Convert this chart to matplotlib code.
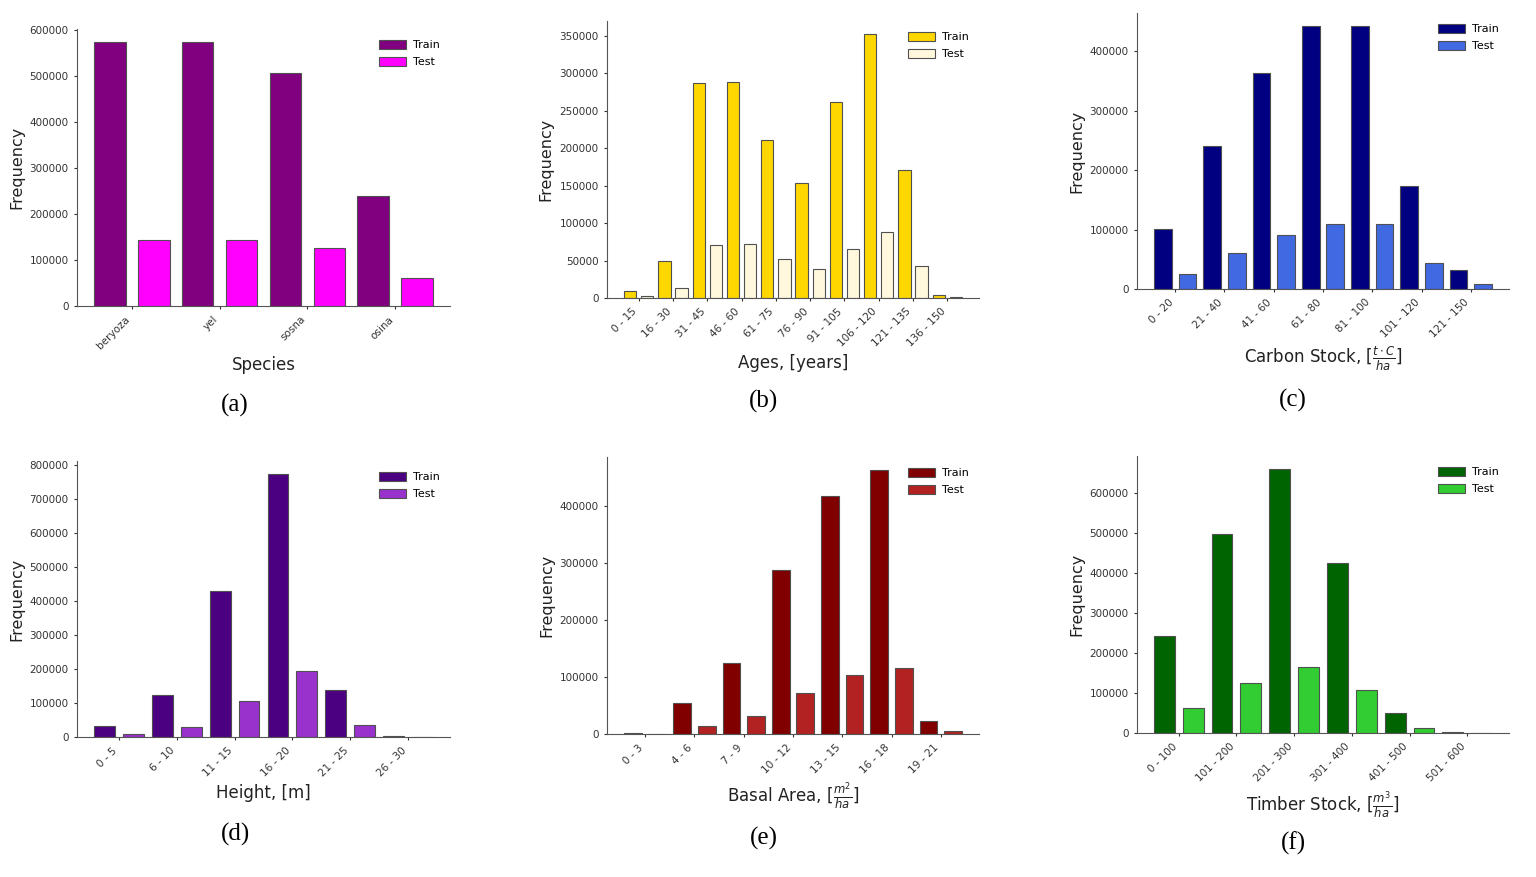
import matplotlib
matplotlib.use('Agg')
import matplotlib.pyplot as plt
import numpy as np

FIG_W_PX = 1536
FIG_H_PX = 877
DPI = 100

BAR_WIDTH = 0.36
BAR_OFFSET = 0.25

# (a) species
species_labels = ['beryoza', 'yel', 'sosna', 'osina']
species_train = [574500, 574500, 507600, 240000]
species_test = [144000, 144000, 127300, 60400]

# (b) ages
age_labels = ['0 - 15', '16 - 30', '31 - 45', '46 - 60', '61 - 75', '76 - 90',
              '91 - 105', '106 - 120', '121 - 135', '136 - 150']
age_train = [10000, 50000, 287600, 288500, 211300, 153400, 261700, 352200, 170300, 4000]
age_test = [2200, 12900, 71300, 72200, 52600, 38300, 66000, 87800, 42800, 1300]

# (c) carbon stock
carbon_labels = ['0 - 20', '21 - 40', '41 - 60', '61 - 80', '81 - 100', '101 - 120', '121 - 150']
carbon_train = [100700, 241100, 364200, 442000, 442500, 172900, 32400]
carbon_test = [25200, 60400, 90600, 109700, 109700, 43100, 7800]

# (d) height
height_labels = ['0 - 5', '6 - 10', '11 - 15', '16 - 20', '21 - 25', '26 - 30']
height_train = [33300, 124200, 428400, 772600, 137900, 2000]
height_test = [8800, 30300, 106600, 193600, 34200, 800]

# (e) basal area
basal_labels = ['0 - 3', '4 - 6', '7 - 9', '10 - 12', '13 - 15', '16 - 18', '19 - 21']
basal_train = [1200, 54900, 123800, 286700, 416400, 461900, 22200]
basal_test = [300, 13400, 31500, 71200, 103900, 115000, 5800]

# (f) timber stock
timber_labels = ['0 - 100', '101 - 200', '201 - 300', '301 - 400', '401 - 500', '501 - 600']
timber_train = [241700, 497500, 659200, 425800, 49200, 2500]
timber_test = [61700, 124200, 165000, 106700, 12500, 1000]


def _px_rect(x0, x1, y_top, y_bot):
    return [x0 / FIG_W_PX, 1 - y_bot / FIG_H_PX,
            (x1 - x0) / FIG_W_PX, (y_bot - y_top) / FIG_H_PX]


def _plot_panel(fig, rect, labels, train, test, colors, xlabel, tag, tag_xy):
    ax = fig.add_axes(_px_rect(*rect))
    x = np.arange(len(labels))

    ax.bar(x - BAR_OFFSET, train, BAR_WIDTH, color=colors[0],
           edgecolor='#505050', linewidth=0.8, label='Train')
    ax.bar(x + BAR_OFFSET, test, BAR_WIDTH, color=colors[1],
           edgecolor='#505050', linewidth=0.8, label='Test')

    ax.set_xticks(x)
    ax.set_xticklabels(labels, rotation=45, ha='right', fontsize=7.5)
    ax.tick_params(axis='y', labelsize=7.5)
    ax.tick_params(colors='#333333', length=2.5)
    for side in ('top', 'right'):
        ax.spines[side].set_visible(False)
    for side in ('left', 'bottom'):
        ax.spines[side].set_color('#555555')

    ax.set_xlabel(xlabel, fontsize=12, color='#222222')
    ax.set_ylabel('Frequency', fontsize=11.5, color='#222222')
    # legend sits a bit lower and wider-spaced than the default
    ax.legend(loc='upper right', frameon=False, fontsize=8,
              handlelength=2.4, handleheight=0.9, labelspacing=0.6,
              handletextpad=0.6, borderaxespad=0.55)

    fig.text(tag_xy[0] / FIG_W_PX, 1 - tag_xy[1] / FIG_H_PX, tag,
             family='Liberation Serif', fontsize=18, ha='center', va='center')
    return ax


def main():
    fig = plt.figure(figsize=(FIG_W_PX / DPI, FIG_H_PX / DPI), dpi=DPI)

    _plot_panel(fig, (77, 450, 29, 306), species_labels, species_train, species_test,
                ('#800080', '#FF00FF'), 'Species', '(a)', (235, 405))
    _plot_panel(fig, (607, 979, 21, 298), age_labels, age_train, age_test,
                ('#FFD700', '#FFF8DC'), 'Ages, [years]', '(b)', (764, 401))
    _plot_panel(fig, (1137, 1509, 13, 289), carbon_labels, carbon_train, carbon_test,
                ('#000080', '#4169E1'), r'Carbon Stock, [$\frac{t \cdot C}{ha}$]', '(c)', (1293, 400))
    _plot_panel(fig, (77, 450, 461, 737), height_labels, height_train, height_test,
                ('#4B0082', '#9932CC'), 'Height, [m]', '(d)', (235, 834))
    _plot_panel(fig, (607, 979, 457, 734), basal_labels, basal_train, basal_test,
                ('#800000', '#B22222'), r'Basal Area, [$\frac{m^2}{ha}$]', '(e)', (764, 838))
    _plot_panel(fig, (1137, 1509, 456, 733), timber_labels, timber_train, timber_test,
                ('#006400', '#32CD32'), r'Timber Stock, [$\frac{m^3}{ha}$]', '(f)', (1293, 843))

    fig.savefig('out.png', dpi=DPI)


if __name__ == "__main__":
    main()
